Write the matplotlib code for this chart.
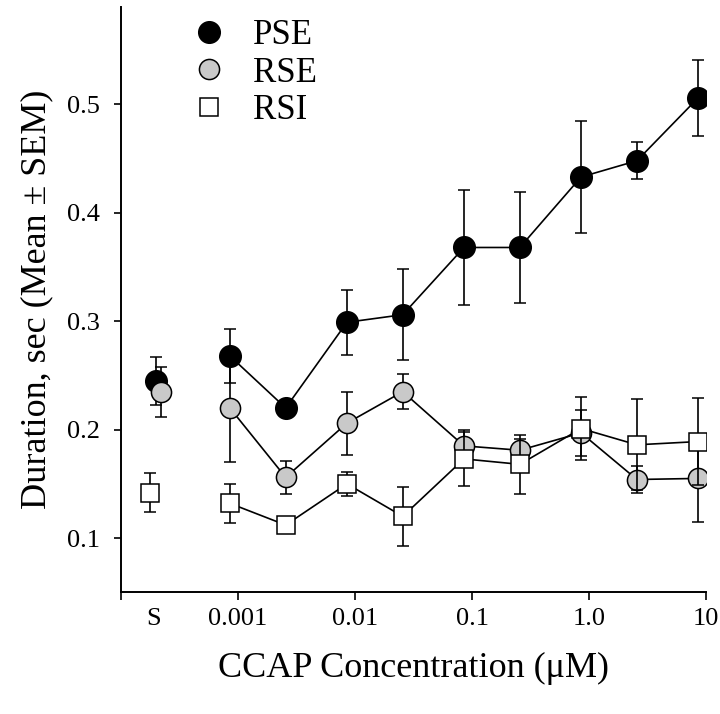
import numpy as np
import matplotlib
matplotlib.use("Agg")
import matplotlib.pyplot as plt
from matplotlib.lines import Line2D

plt.rcParams['font.family'] = ['Liberation Serif', 'DejaVu Serif']

# CCAP concentrations (uM) and saline control "S"
conc = [0.001, 0.003, 0.01, 0.03, 0.1, 0.3, 1.0, 3.0, 10.0]
tick_vals = [0.0001, 0.001, 0.01, 0.1, 1.0, 10.0]
tick_labels = ['', '0.001', '0.01', '0.1', '1.0', '10']

# duration, sec (mean, sem)
pse_mean = [0.268, 0.220, 0.299, 0.306, 0.368, 0.368, 0.433, 0.448, 0.506]
pse_sem = [0.025, 0.006, 0.030, 0.042, 0.053, 0.051, 0.052, 0.017, 0.035]
rse_mean = [0.220, 0.156, 0.206, 0.235, 0.185, 0.181, 0.197, 0.154, 0.155]
rse_sem = [0.050, 0.015, 0.029, 0.016, 0.015, 0.010, 0.021, 0.012, 0.040]
rsi_mean = [0.132, 0.112, 0.150, 0.120, 0.173, 0.168, 0.201, 0.186, 0.189]
rsi_sem = [0.018, 0.004, 0.011, 0.027, 0.025, 0.027, 0.029, 0.042, 0.040]

# saline values
s_mean = {'PSE': 0.245, 'RSE': 0.235, 'RSI': 0.142}
s_sem = {'PSE': 0.022, 'RSE': 0.023, 'RSI': 0.018}
s_pos = {'PSE': -3.70, 'RSE': -3.66, 'RSI': -3.75}
s_label_pos = -3.72
shift = -0.07   # points sit a little left of the ticks in the original

x = np.log10(conc) + shift

styles = {
    'PSE': dict(marker='o', ms=15.5, mfc='black', mec='black'),
    'RSE': dict(marker='o', ms=14.5, mfc='#c9c9c9', mec='black'),
    'RSI': dict(marker='s', ms=12.8, mfc='white', mec='black'),
}
series = [('PSE', pse_mean, pse_sem), ('RSE', rse_mean, rse_sem),
          ('RSI', rsi_mean, rsi_sem)]

fig = plt.figure(figsize=(7.2, 7.14), dpi=100)
ax = fig.add_axes([0.168, 0.1705, 0.813, 0.82])

z = 2
for name, m, e in series:
    st = styles[name]
    ax.errorbar(x, m, yerr=e, color='black', lw=1.2, elinewidth=1.2,
                capsize=4, capthick=1.2, mew=1.1, zorder=z, **st)
    ax.errorbar([s_pos[name]], [s_mean[name]], yerr=[s_sem[name]],
                color='black', elinewidth=1.2, capsize=4, capthick=1.2,
                mew=1.1, ls='none', zorder=z, **st)
    z += 1

ax.set_xlim(-4, 1)
ax.set_ylim(0.05, 0.59)
ax.set_xticks(np.log10(tick_vals))
ax.set_xticklabels(tick_labels)
ax.set_xticks([s_label_pos], ['S'], minor=True)
ax.tick_params(axis='x', which='minor', length=0, labelsize=19, pad=11)
ax.tick_params(axis='x', which='major', length=6, width=1.2, labelsize=19,
               pad=5, direction='out')
ax.set_yticks([0.1, 0.2, 0.3, 0.4, 0.5])
ax.set_yticklabels(['0.1', '0.2', '0.3', '0.4', '0.5'])
ax.tick_params(axis='y', length=5, width=1.2, labelsize=19, pad=10)

for s in ['top', 'right']:
    ax.spines[s].set_visible(False)
for s in ['left', 'bottom']:
    ax.spines[s].set_linewidth(1.4)

ax.set_xlabel('CCAP Concentration (\u03bcM)', fontsize=26, labelpad=16)
ax.set_ylabel('Duration, sec (Mean \u00b1 SEM)', fontsize=26, labelpad=10)

handles = [Line2D([], [], ls='none', mew=1.1, **styles[n]) for n, _, _ in series]
ax.legend(handles, [n for n, _, _ in series], loc='upper left',
          bbox_to_anchor=(0.121, 0.979), frameon=False, fontsize=25,
          handlelength=1.0, handletextpad=0.77, labelspacing=0.13,
          borderpad=0, borderaxespad=0, numpoints=1)

fig.savefig('out.png', dpi=100)
